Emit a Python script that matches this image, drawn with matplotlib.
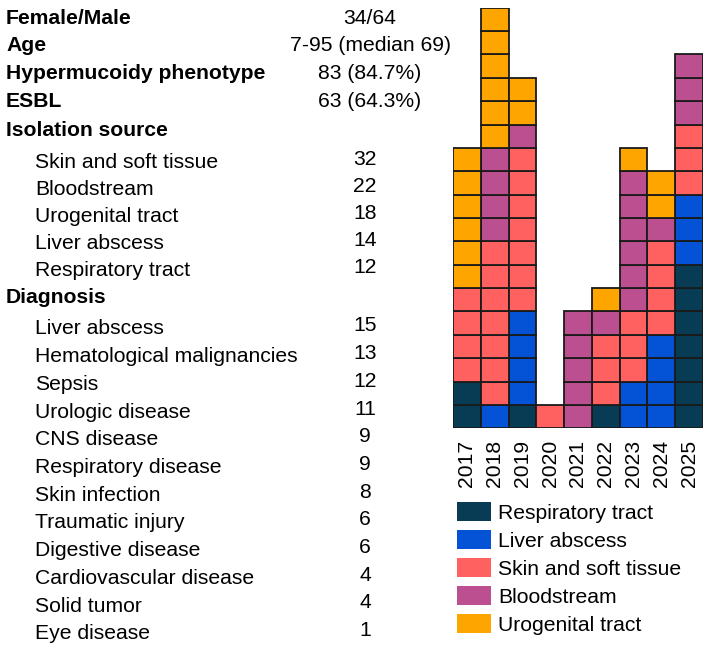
import matplotlib.pyplot as plt
from matplotlib.patches import Patch
import numpy as np

plt.rcParams["font.family"] = ["Liberation Sans", "DejaVu Sans"]

# left-hand summary table
summary_labels = ["Female/Male", "Age", "Hypermucoidy phenotype", "ESBL"]
summary_values = ["34/64", "7-95 (median 69)", "83 (84.7%)", "63 (64.3%)"]
source_labels = ["Skin and soft tissue", "Bloodstream", "Urogenital tract",
                 "Liver abscess", "Respiratory tract"]
source_counts = [32, 22, 18, 14, 12]
diagnosis_labels = ["Liver abscess", "Hematological malignancies", "Sepsis",
                    "Urologic disease", "CNS disease", "Respiratory disease",
                    "Skin infection", "Traumatic injury", "Digestive disease",
                    "Cardiovascular disease", "Solid tumor", "Eye disease"]
diagnosis_counts = [15, 13, 12, 11, 9, 9, 8, 6, 6, 4, 4, 1]

# isolates per year, stacked bottom -> top in this order
years = ["2017", "2018", "2019", "2020", "2021", "2022", "2023", "2024", "2025"]
categories = ["Respiratory tract", "Liver abscess", "Skin and soft tissue",
              "Bloodstream", "Urogenital tract"]
respiratory = [2, 0, 1, 0, 0, 1, 0, 0, 7]
liver = [0, 1, 4, 0, 0, 0, 2, 4, 3]
skin = [4, 7, 7, 1, 0, 3, 3, 4, 3]
blood = [0, 4, 1, 0, 5, 1, 6, 1, 3]
urogenital = [6, 6, 2, 0, 0, 1, 1, 2, 0]
colors = ["#083c55", "#0452d6", "#ff6161", "#bb4f8f", "#ffa500"]

W, H = 709, 650
fig = plt.figure(figsize=(W / 100, H / 100), dpi=100)
FS = 15.2


def put(x, y, s, **kw):
    fig.text(x / W, 1 - y / H, s, fontsize=FS, va="center", **kw)


# table text
y = 18
for lab, val in zip(summary_labels, summary_values):
    put(6, y, lab, fontweight="bold")
    put(370, y, val, ha="center")
    y += 27.7
put(6, 130, "Isolation source", fontweight="bold")
for i, (lab, n) in enumerate(zip(source_labels, source_counts)):
    yy = 162 + 27.2 * i
    put(35, yy, lab)
    put(365, yy - 3, str(n), ha="center")
put(6, 297, "Diagnosis", fontweight="bold")
for i, (lab, n) in enumerate(zip(diagnosis_labels, diagnosis_counts)):
    yy = 329 + 27.7 * i
    put(35, yy, lab)
    put(365, yy - 3, str(n), ha="center")

# stacked unit-cell bars
ax = fig.add_axes([453 / W, 1 - 428.3 / H, 250 / W, (428.3 - 7.7) / H])
x = np.arange(len(years))
series = [respiratory, liver, skin, blood, urogenital]
bottom = np.zeros(len(years))
for vals, col in zip(series, colors):
    for xi, n in zip(x, vals):
        for k in range(n):
            ax.bar(xi, 1, width=1, bottom=bottom[xi] + k, color=col,
                   edgecolor="#1a1a1a", linewidth=1.3)
    bottom += np.array(vals)

ax.set_xlim(-0.5, len(years) - 0.5)
ax.set_ylim(0, 18)
ax.set_xticks(x)
ax.set_xticklabels(years, rotation=90, fontsize=FS)
ax.tick_params(axis="x", length=0, pad=8)
ax.set_yticks([])
for sp in ax.spines.values():
    sp.set_visible(False)

handles = [Patch(facecolor=c, edgecolor="none") for c in colors]
fig.legend(handles, categories, loc="upper left",
           bbox_to_anchor=(453 / W, 1 - 498 / H), frameon=False,
           fontsize=FS, handlelength=1.6, handleheight=1.0,
           handletextpad=0.35, labelspacing=0.35, borderpad=0.2,
           borderaxespad=0)

fig.savefig("out.png", dpi=100)
